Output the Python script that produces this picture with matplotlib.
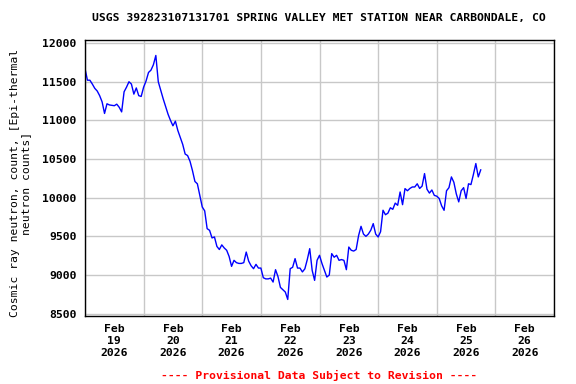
import matplotlib
matplotlib.use("Agg")
import matplotlib.pyplot as plt
import matplotlib.dates as mdates
import pandas as pd

# hourly readings starting Feb 19 2026 00:00
start = "2026-02-19 00:00"
counts = [
    11670, 11520, 11520, 11470, 11415, 11380, 11320, 11240, 11090, 11215,
    11200, 11195, 11190, 11210, 11170, 11110, 11370, 11430, 11500, 11470,
    11340, 11420, 11320, 11310, 11430, 11510, 11620, 11650, 11720, 11840,
    11500, 11390, 11280, 11180, 11080, 11000, 10930, 10990, 10870, 10780,
    10690, 10565, 10545, 10470, 10350, 10210, 10180, 10030, 9880, 9830,
    9600, 9578, 9480, 9492, 9370, 9330, 9390, 9350, 9320, 9240,
    9112, 9190, 9160, 9150, 9150, 9160, 9297, 9180, 9120, 9082,
    9138, 9090, 9090, 8965, 8950, 8950, 8960, 8909, 9069, 8980,
    8840, 8810, 8780, 8684, 9082, 9100, 9212, 9090, 9090, 9040,
    9080, 9200, 9341, 9060, 8931, 9190, 9255, 9150, 9060, 8974,
    9000, 9277, 9230, 9255, 9190, 9200, 9190, 9069, 9362, 9320,
    9310, 9330, 9510, 9630, 9530, 9500, 9530, 9580, 9665, 9530,
    9492, 9560, 9838, 9780, 9800, 9870, 9850, 9930, 9902, 10074,
    9910, 10118, 10090, 10120, 10139, 10139, 10180, 10120, 10150, 10312,
    10110, 10060, 10100, 10030, 10020, 9990, 9895, 9837, 10090, 10130,
    10269, 10200, 10050, 9946, 10090, 10130, 9990, 10180, 10170, 10300,
    10442, 10269, 10360,
]
times = pd.date_range(start, periods=len(counts), freq="h")

title = "USGS 392823107131701 SPRING VALLEY MET STATION NEAR CARBONDALE, CO"
ylabel = "Cosmic ray neutron, count, [Epi-thermal\nneutron counts]"
footer = "---- Provisional Data Subject to Revision ----"
yticks = [8500, 9000, 9500, 10000, 10500, 11000, 11500, 12000]

plt.rcParams["font.family"] = "DejaVu Sans Mono"
plt.rcParams["font.weight"] = "bold"
plt.rcParams["font.size"] = 8.2

fig = plt.figure(figsize=(5.76, 3.84), dpi=100)
ax = fig.add_axes([85 / 576, 1 - 316 / 384, 469 / 576, 276 / 384])

ax.plot(times, counts, color="#0000ff", lw=1)

ax.set_xlim(pd.Timestamp("2026-02-19"), pd.Timestamp("2026-02-27"))
ax.set_ylim(8470, 12040)
ax.set_yticks(yticks)

ax.xaxis.set_major_locator(mdates.DayLocator())
ax.xaxis.set_major_formatter(plt.NullFormatter())
ax.xaxis.set_minor_locator(mdates.HourLocator(byhour=[12]))
ax.xaxis.set_minor_formatter(mdates.DateFormatter("%b\n%d\n%Y"))
ax.tick_params(axis="both", which="both", length=0)
ax.tick_params(axis="y", pad=6)
ax.tick_params(axis="x", which="minor", pad=6)

ax.grid(True, which="major", color="#c8c8c8", lw=1)
ax.set_axisbelow(True)
for s in ax.spines.values():
    s.set_color("black")
    s.set_linewidth(1)

ax.set_ylabel(ylabel, linespacing=1.1)
ax.yaxis.set_label_coords(-0.115, 0.482)
fig.text(319 / 576, 1 - 18 / 384, title, ha="center", va="center")
fig.text(319 / 576, 1 - 375 / 384, footer, ha="center", va="center", color="red")

fig.savefig("out.png", dpi=100)
